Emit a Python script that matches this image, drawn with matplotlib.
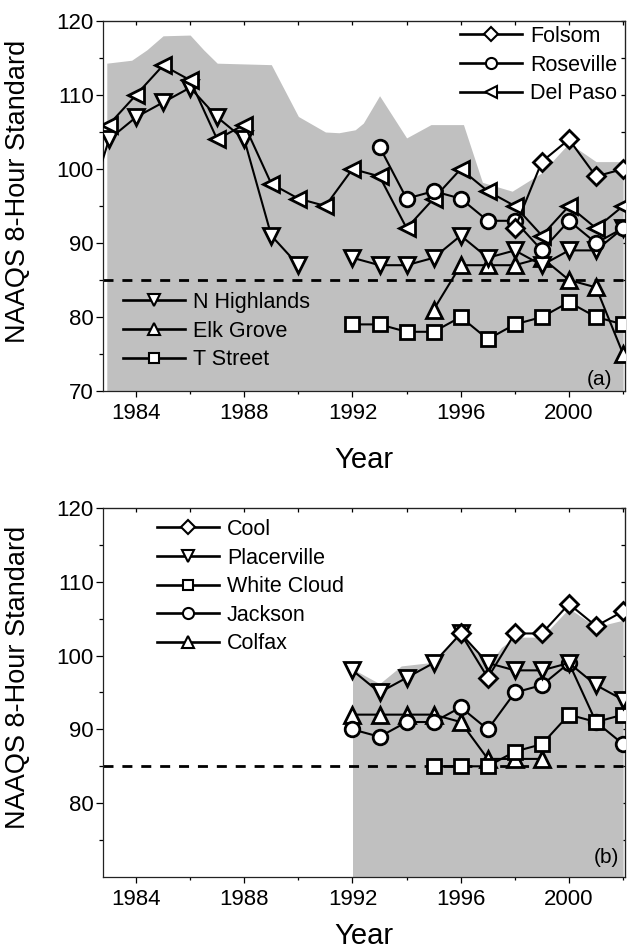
import numpy as np
import matplotlib
matplotlib.use("Agg")
import matplotlib.pyplot as plt
from matplotlib.lines import Line2D

plt.rcParams['font.family'] = ['Liberation Sans', 'DejaVu Sans']

nan = np.nan

# ---- panel (a) data ----
folsom_yr = [1998, 1999, 2000, 2001, 2002]
folsom = [92, 101, 104, 99, 100]
roseville_yr = list(range(1993, 2003))
roseville = [103, 96, 97, 96, 93, 93, 89, 93, 90, 92]
delpaso_yr = list(range(1983, 2003))
delpaso = [106, 110, 114, 112, 104, 106, 98, 96, 95, 100, 99, 92, 96, 100, 97, 95, 91, 95, 92, 95]
nhigh_yr = list(range(1982, 2003))
nhigh = [92, 104, 107, 109, 111, 107, 104, 91, 87, nan, 88, 87, 87, 88, 91, 88, 89, 87, 89, 89, 92]
elkgrove_yr = list(range(1995, 2003))
elkgrove = [81, 87, 87, 87, 88, 85, 84, 75]
tstreet_yr = list(range(1992, 2003))
tstreet = [79, 79, 78, 78, 80, 77, 79, 80, 82, 80, 79]

fill_a_yr = [1982.92, 1983.84, 1984.4, 1985, 1986, 1986.5, 1987, 1988, 1989, 1990, 1991,
             1991.5, 1992.1, 1992.4, 1993, 1994, 1994.9, 1996.1, 1996.8, 1997.9, 1999, 2000, 2001, 2002]
fill_a_top = [114.3, 114.7, 116.1, 118.0, 118.1, 116.1, 114.3, 114.2, 114.1, 107.1, 105.0,
              104.9, 105.3, 106.2, 109.9, 104.2, 106.0, 106.0, 98.2, 97.0, 99.5, 103.5, 101.0, 101.0]

# ---- panel (b) data ----
cool_yr = list(range(1996, 2003))
cool = [103, 97, 103, 103, 107, 104, 106]
placer_yr = list(range(1992, 2003))
placer = [98, 95, 97, 99, 103, 99, 98, 98, 99, 96, 94]
whitecloud_yr = list(range(1995, 2003))
whitecloud = [85, 85, 85, 87, 88, 92, 91, 92]
jackson_yr = list(range(1992, 2003))
jackson = [90, 89, 91, 91, 93, 90, 95, 96, 99, 91, 88]
colfax_yr = list(range(1992, 2000))
colfax = [92, 92, 92, 92, 91, 86, 86, 86]

fill_b_yr = [1992, 1993, 1993.8, 1995, 1996, 1997, 1997.5, 1998, 1999, 2000, 2001, 2002]
fill_b_top = [98.2, 96.2, 98.6, 99.1, 103.4, 98.6, 101.1, 102.5, 102.5, 106.4, 103.9, 104.8]

standard = 85
grey = '#c0c0c0'


def series(ax, x, y, m, ms):
    ax.plot(x, y, color='k', lw=1.5, marker=m, ms=ms, mfc='white', mec='k', mew=2.0, zorder=3)


def handle(m, ms):
    return Line2D([], [], color='k', lw=1.9, marker=m, ms=ms, mfc='white', mec='k', mew=1.5)


def style_axes(ax, ylabels):
    ax.set_xlim(1982.78, 2002.07)
    ax.set_ylim(70, 120)
    ax.set_xticks([1984, 1988, 1992, 1996, 2000])
    ax.set_xticks([1986, 1990, 1994, 1998, 2002], minor=True)
    ax.set_yticks(ylabels)
    ax.set_yticks(np.arange(75, 120, 10), minor=True)
    ax.tick_params(axis='both', labelsize=16, colors='k')
    ax.tick_params(axis='x', which='major', direction='out', length=4.3, width=0.9, pad=4)
    ax.tick_params(axis='x', which='minor', direction='out', length=2.5, width=0.9)
    ax.tick_params(axis='y', which='major', direction='out', length=5, width=0.9, pad=1.5)
    ax.tick_params(axis='y', which='minor', direction='out', length=3, width=0.9)
    for s in ax.spines.values():
        s.set_linewidth(0.9)
        s.set_color('#222222')
    top = ax.secondary_xaxis('top')
    top.set_xticks(np.arange(1984, 2003, 2))
    top.tick_params(direction='in', length=3.2, width=0.9, labeltop=False)
    right = ax.secondary_yaxis('right')
    right.set_yticks(np.arange(75, 121, 5))
    right.tick_params(direction='in', length=3.2, width=0.9, labelright=False)
    ax.axhline(standard, color='k', lw=2, dashes=(3.6, 3.2), zorder=2)
    ax.set_ylabel('NAAQS 8-Hour Standard', fontsize=19.5)
    ax.set_xlabel('Year', fontsize=21)


fig = plt.figure(figsize=(6.3, 9.52), dpi=100)

# ---------- panel (a) ----------
ax1 = fig.add_axes([103 / 630, 1 - 391 / 952, 522 / 630, 370 / 952])
ax1.fill_between(fill_a_yr, 70, fill_a_top, color=grey, lw=0, zorder=1)
style_axes(ax1, [70, 80, 90, 100, 110, 120])
series(ax1, tstreet_yr, tstreet, 's', 9.4)
series(ax1, elkgrove_yr, elkgrove, '^', 11)
series(ax1, nhigh_yr, nhigh, 'v', 11)
series(ax1, delpaso_yr, delpaso, '<', 11)
series(ax1, roseville_yr, roseville, 'o', 10.5)
series(ax1, folsom_yr, folsom, 'D', 9.6)
ax1.yaxis.set_label_coords(-0.137, 0.54)
ax1.xaxis.set_label_coords(0.5, -0.15)
ax1.text(0.952, 0.03, '(a)', transform=ax1.transAxes, fontsize=15, ha='center', va='center')

leg = ax1.legend([handle('D', 7.5), handle('o', 8), handle('<', 8.5)],
                 ['Folsom', 'Roseville', 'Del Paso'],
                 loc='upper left', bbox_to_anchor=(460 / 630, 1 - 26 / 952), bbox_transform=fig.transFigure,
                 frameon=False, fontsize=15.5, handlelength=2.9, handletextpad=0.35,
                 labelspacing=0.35, borderpad=0, borderaxespad=0)
ax1.add_artist(leg)
ax1.legend([handle('v', 8.5), handle('^', 8.5), handle('s', 7)],
           ['N Highlands', 'Elk Grove', 'T Street'],
           loc='upper left', bbox_to_anchor=(123 / 630, 1 - 292 / 952), bbox_transform=fig.transFigure,
           frameon=False, fontsize=15.5, handlelength=2.9, handletextpad=0.35,
           labelspacing=0.35, borderpad=0, borderaxespad=0)

# ---------- panel (b) ----------
ax2 = fig.add_axes([103 / 630, 1 - 877 / 952, 522 / 630, 369 / 952])
ax2.fill_between(fill_b_yr, 70, fill_b_top, color=grey, lw=0, zorder=1)
style_axes(ax2, [80, 90, 100, 110, 120])
series(ax2, colfax_yr, colfax, '^', 11)
series(ax2, jackson_yr, jackson, 'o', 10.5)
series(ax2, whitecloud_yr, whitecloud, 's', 9.4)
series(ax2, placer_yr, placer, 'v', 11)
series(ax2, cool_yr, cool, 'D', 9.6)
ax2.yaxis.set_label_coords(-0.137, 0.54)
ax2.xaxis.set_label_coords(0.5, -0.122)
ax2.text(0.965, 0.054, '(b)', transform=ax2.transAxes, fontsize=15, ha='center', va='center')

ax2.legend([handle('D', 7.5), handle('v', 8.5), handle('s', 7), handle('o', 8), handle('^', 8.5)],
           ['Cool', 'Placerville', 'White Cloud', 'Jackson', 'Colfax'],
           loc='upper left', bbox_to_anchor=(157 / 630, 1 - 519 / 952), bbox_transform=fig.transFigure,
           frameon=False, fontsize=15.5, handlelength=2.9, handletextpad=0.35,
           labelspacing=0.35, borderpad=0, borderaxespad=0)

fig.savefig('out.png', dpi=100)
